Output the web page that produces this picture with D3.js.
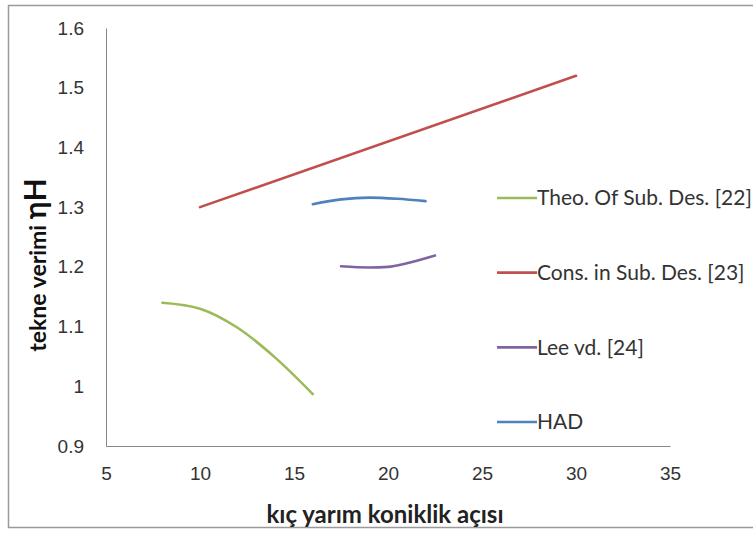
<!DOCTYPE html>
<html>
<head>
<meta charset="utf-8">
<script src="https://cdn.jsdelivr.net/npm/d3@7"></script>
<style>
  body { margin: 0; background: #fff; }
  svg { display: block; font-family: Lato, "Open Sans", sans-serif; }
</style>
</head>
<body>
<script>
"use strict";

const WIDTH = 753
const HEIGHT = 538

const x_ticks = [5, 10, 15, 20, 25, 30, 35]
const y_ticks = [0.9, 1, 1.1, 1.2, 1.3, 1.4, 1.5, 1.6]

const theo_x = [8, 10, 12, 14, 16]
const theo_y = [1.14, 1.13, 1.098, 1.048, 0.987]
const cons_x = [10, 30]
const cons_y = [1.30, 1.52]
const lee_x = [17.5, 19, 20, 21, 22.5]
const lee_y = [1.201, 1.199, 1.2, 1.206, 1.219]
const had_x = [16, 17.5, 19, 20.5, 22]
const had_y = [1.305, 1.313, 1.316, 1.314, 1.31]

const series_names = ["Theo. Of Sub. Des. [22]", "Cons. in Sub. Des. [23]", "Lee vd. [24]", "HAD"]
const series_colors = ["#9BBB59", "#C0504D", "#8064A2", "#4F81BD"]

const series = [
    { name: series_names[0], color: series_colors[0], xs: theo_x, ys: theo_y },
    { name: series_names[1], color: series_colors[1], xs: cons_x, ys: cons_y },
    { name: series_names[2], color: series_colors[2], xs: lee_x, ys: lee_y },
    { name: series_names[3], color: series_colors[3], xs: had_x, ys: had_y },
]

const svg = d3.select("body").append("svg")
    .attr("width", WIDTH)
    .attr("height", HEIGHT)

// outer chart frame (right edge is cut off in the original)
svg.append("rect")
    .attr("x", 8.5).attr("y", 5.5)
    .attr("width", 760).attr("height", 522)
    .attr("fill", "none")
    .attr("stroke", "#9a9a9a")
    .attr("stroke-width", 1.5)

const x = d3.scaleLinear().domain([5, 35]).range([106, 670])
const y = d3.scaleLinear().domain([0.9, 1.6]).range([446, 28])

const xAxis = svg.append("g")
    .attr("transform", `translate(0,${y(0.9)})`)
    .call(d3.axisBottom(x).tickValues(x_ticks).tickSize(0).tickPadding(21).tickFormat(d3.format("d")))
xAxis.select(".domain").attr("stroke", "#868686")
xAxis.selectAll("text").attr("font-size", 19).attr("fill", "#333")

const yAxis = svg.append("g")
    .attr("transform", `translate(${x(5)},0)`)
    .call(d3.axisLeft(y).tickValues(y_ticks).tickSize(0).tickPadding(22).tickFormat(d => d === 1 ? "1" : d3.format(".1f")(d)))
yAxis.select(".domain").attr("stroke", "#868686")
yAxis.selectAll("text").attr("font-size", 19).attr("fill", "#333")

const line = d3.line()
    .x(d => x(d[0]))
    .y(d => y(d[1]))
    .curve(d3.curveMonotoneX)

svg.append("g").selectAll("path")
    .data(series)
    .join("path")
    .attr("d", s => line(d3.zip(s.xs, s.ys)))
    .attr("fill", "none")
    .attr("stroke", s => s.color)
    .attr("stroke-width", 2.6)
    .attr("stroke-linecap", "round")

// legend
const legend = svg.append("g")
const legend_y = d3.scalePoint().domain(series_names).range([198, 422])
const rows = legend.selectAll("g")
    .data(series)
    .join("g")
    .attr("transform", s => `translate(497,${legend_y(s.name)})`)
rows.append("line")
    .attr("x1", 0).attr("x2", 40)
    .attr("stroke", s => s.color)
    .attr("stroke-width", 2.6)
rows.append("text")
    .attr("x", 40)
    .attr("dy", "0.35em")
    .attr("font-size", 21)
    .attr("fill", "#333")
    .text(s => s.name)

// axis titles
svg.append("text")
    .attr("x", (x(5) + x(35)) / 2 - 3)
    .attr("y", 523)
    .attr("text-anchor", "middle")
    .attr("font-size", 24)
    .attr("font-weight", "bold")
    .attr("fill", "#222")
    .text("kıç yarım koniklik açısı")

const ytitle = svg.append("text")
    .attr("transform", "translate(46,265) rotate(-90)")
    .attr("text-anchor", "middle")
    .attr("font-weight", "bold")
    .attr("fill", "#111")
ytitle.append("tspan").attr("font-size", 23).text("tekne verimi ")
ytitle.append("tspan").attr("font-size", 30).text("ηH")
</script>
</body>
</html>
